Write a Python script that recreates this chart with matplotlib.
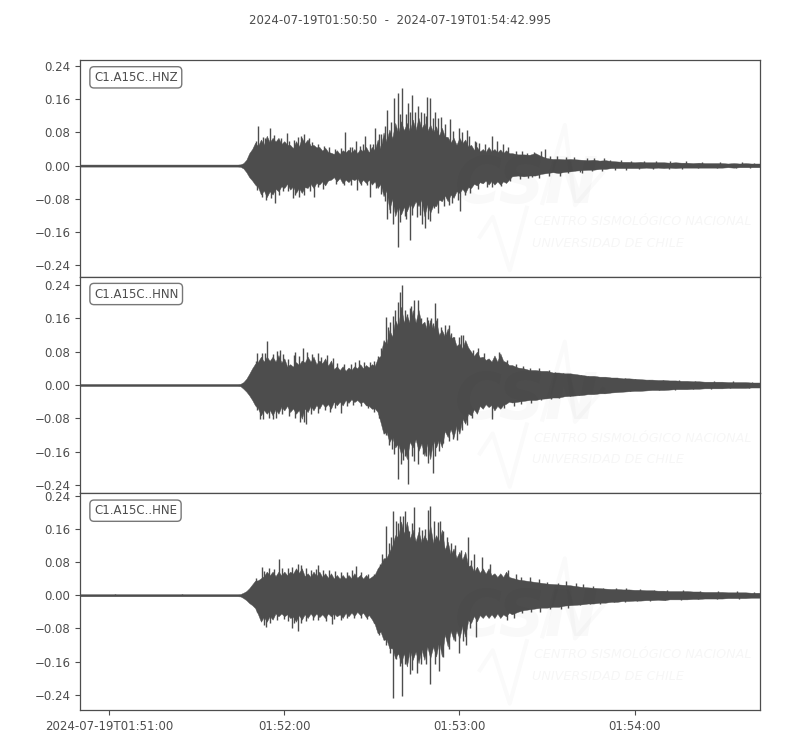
import matplotlib
matplotlib.use("Agg")
import matplotlib.pyplot as plt
import numpy as np

TITLE = "2024-07-19T01:50:50  -  2024-07-19T01:54:42.995"
channels = ["C1.A15C..HNZ", "C1.A15C..HNN", "C1.A15C..HNE"]
y_ticks = [-0.24, -0.16, -0.08, 0.0, 0.08, 0.16, 0.24]
x_ticks = [10, 70, 130, 190]
x_labels = ["2024-07-19T01:51:00", "01:52:00", "01:53:00", "01:54:00"]
y_limits = [(-0.268, 0.2547), (-0.26, 0.26), (-0.277, 0.2458)]

# seconds after 01:50:50 at which the envelopes were read
peak_t = [0] + list(range(52, 148, 2)) + list(range(148, 233, 4)) + [233]
notch_t = list(range(53, 149, 2)) + list(range(150, 231, 4))

z_tail_up = [.030, .027, .030, .018, .016, .016, .014, .014, .013, .010, .009, .009, .008, .008, .008, .007, .007, .006, .006, .006, .006, .005, .005]
z_tail_lo = [.026, .026, .024, .018, .018, .014, .011, .010, .008, .006, .006, .006, .006, .006, .006, .005, .005, .005, .005, .005, .004, .004, .004]
z_up = [.0025, .0025, .0025, .006, .03, .055, .063, .072, .067, .067, .059, .05, .059, .067, .063, .05, .045, .043, .031, .037, .037, .039, .04, .04, .045, .045, .063, .08, .087, .103, .107, .103, .111, .115, .103, .099, .095, .091, .069, .067, .067, .063, .05, .045, .04, .045, .04, .039, .037] + z_tail_up
z_lo = [.0025, .0025, .0025, .007, .028, .046, .07, .076, .07, .062, .054, .058, .066, .066, .054, .054, .046, .048, .034, .038, .043, .040, .035, .043, .042, .046, .054, .074, .106, .122, .118, .11, .102, .098, .122, .114, .098, .086, .086, .078, .066, .066, .054, .048, .043, .046, .046, .046, .042] + z_tail_lo
z_up_notch = [.0025, .003, .014, .04, .047, .05, .056, .058, .052, .05, .042, .046, .054, .048, .044, .036, .033, .028, .028, .032, .031, .03, .034, .032, .037, .04, .058, .066, .078, .085, .082, .086, .09, .083, .08, .072, .07, .056, .05, .054, .046, .038, .034, .033, .034, .032, .03, .03,
              .027, .026, .023, .016, .015, .015, .013, .012, .011, .009, .008, .008, .008, .007, .007, .006, .006, .006, .005, .005, .005]
z_lo_notch = [.0025, .003, .016, .036, .052, .06, .062, .056, .05, .044, .05, .054, .052, .044, .042, .038, .036, .028, .03, .034, .032, .03, .034, .034, .038, .044, .06, .08, .098, .1, .092, .086, .082, .094, .096, .082, .072, .07, .062, .056, .052, .044, .04, .036, .037, .038, .038, .034,
              .024, .024, .02, .016, .015, .012, .01, .008, .006, .006, .006, .005, .005, .005, .005, .005, .005, .005, .004, .004, .004]
z_spike_t = [61, 65.1, 70.8, 74.8, 76.9, 90.8, 94.6, 97.7, 101.1, 102.5, 105.1, 107.6, 108.9, 110.4, 112.5, 113.8, 115.7, 117.7, 118.9, 119.9, 121.7, 123.7, 126.7, 129.7, 132.5, 135.4, 135.8, 141.3, 142.8, 159.4, 179.4,
             66.8, 72.9, 75.2, 80.2, 94.8, 99.4, 105.1, 107.4, 108.9, 111.4, 112.9, 117.1, 118.3, 120, 121.3, 126.6, 130.3, 132, 141.1, 144.2, 154.9, 172]
z_spike_v = [.096, .091, .079, .069, .075, .081, .059, .071, .091, .077, .135, .163, .175, .186, .151, .171, .143, .127, .165, .163, .129, .117, .113, .091, .087, .06, .058, .071, .059, .04, .018,
             -.09, -.078, -.076, -.076, -.059, -.076, -.13, -.14, -.197, -.122, -.18, -.142, -.15, -.134, -.102, -.094, -.11, -.07, -.051, -.05, -.027, -.019]
z_fine_t = [60.3, 62.7, 63.5, 66.4, 68.9, 71.6, 73.3, 75.7, 78.4, 79.5, 81.4, 83.6, 85.2, 87.4, 89.4, 92.5, 93.2, 95.8, 96.9, 99.2, 100.5, 103.3, 104.6, 106.4,
            109.5, 111.6, 113, 114.9, 116.7, 118.4, 120.8, 122.8, 124.9, 127.8, 130.8, 133.3, 136.7, 138.9, 144.9,
            146.5, 149.3, 151.6, 153.2, 155.7, 157.8, 161.1, 163.3, 166.6, 169.4, 173.7, 176.2, 181.6, 185.4, 188.7, 193.2, 197.5, 202.3, 207.6, 213.1, 219.4, 226.7, 231,
            60.6, 62.4, 63.8, 65.3, 68.2, 69.7, 71.4, 73.8, 76.6, 78.9, 81.6, 83.2, 87.7, 90.6, 92.7, 96.3, 98.2, 101.4, 103.1, 104.4, 106.1,
            109.7, 111.8, 113.8, 115.3, 116.4, 119.1, 122.6, 124.8, 127.3, 129.4, 133.6, 136.3, 139.4,
            147.4, 150.7, 153.6, 157.3, 160.6, 164.4, 167.3, 171.2, 175.6, 178.8, 183.3, 187.1, 191.7, 196.4, 201.8, 206.2, 211.9, 218.3, 224.8, 229.6]
z_fine_v = [.06, .07, .066, .074, .066, .06, .062, .072, .066, .058, .052, .048, .044, .04, .042, .046, .045, .048, .052, .052, .052, .075, .095, .105,
            .125, .125, .13, .13, .13, .12, .115, .115, .1, .083, .08, .072, .055, .052, .052,
            .045, .036, .034, .03, .033, .036, .022, .024, .02, .02, .018, .018, .014, .014, .012, .012, .011, .011, .01, .009, .009, .008, .007,
            -.06, -.075, -.082, -.078, -.07, -.062, -.062, -.07, -.072, -.062, -.052, -.056, -.044, -.048, -.046, -.048, -.048, -.054, -.068, -.085, -.115,
            -.135, -.128, -.12, -.125, -.12, -.13, -.115, -.098, -.09, -.082, -.066, -.056, -.052,
            -.036, -.032, -.03, -.03, -.024, -.024, -.018, -.016, -.014, -.012, -.011, -.01, -.009, -.009, -.008, -.008, -.007, -.007, -.006, -.006]

n_tail_up = [.048, .04, .036, .034, .03, .028, .024, .022, .02, .018, .016, .014, .013, .012, .011, .01, .009, .008, .008, .007, .007, .006, .006]
n_tail_lo = [.042, .038, .036, .032, .03, .026, .024, .022, .02, .017, .015, .014, .012, .012, .01, .01, .009, .008, .008, .007, .007, .006, .006]
n_up = [.0025, .0025, .0025, .007, .027, .051, .068, .068, .068, .072, .064, .05, .055, .059, .068, .068, .059, .064, .059, .045, .045, .042, .045, .05, .048, .05, .064, .108, .132, .156, .188, .168, .18, .18, .152, .156, .156, .132, .136, .116, .1, .108, .08, .08, .068, .064, .071, .076, .055] + n_tail_up
n_lo = [.0025, .0025, .0025, .009, .025, .049, .073, .069, .073, .069, .061, .065, .069, .081, .065, .061, .057, .053, .057, .049, .049, .043, .041, .043, .049, .057, .065, .117, .137, .15, .166, .178, .15, .158, .170, .178, .15, .15, .125, .125, .117, .093, .073, .069, .057, .053, .061, .057, .045] + n_tail_lo
n_up_notch = [.0025, .003, .015, .04, .056, .056, .058, .056, .054, .044, .044, .048, .054, .056, .05, .052, .046, .038, .036, .034, .036, .04, .04, .042, .046, .07, .098, .116, .14, .15, .148, .15, .146, .13, .132, .12, .116, .112, .094, .088, .09, .07, .066, .06, .056, .056, .058, .048,
              .042, .036, .034, .03, .028, .026, .022, .02, .018, .016, .015, .013, .012, .011, .01, .009, .008, .008, .007, .007, .006]
n_lo_notch = [.0025, .003, .016, .036, .056, .06, .06, .058, .052, .05, .056, .06, .056, .05, .048, .044, .046, .04, .04, .036, .034, .036, .04, .05, .056, .09, .112, .124, .14, .15, .136, .13, .14, .14, .132, .13, .11, .106, .098, .08, .068, .058, .05, .046, .048, .05, .048, .04,
              .04, .036, .033, .03, .027, .025, .022, .02, .018, .016, .014, .013, .012, .011, .01, .009, .008, .008, .007, .007, .006]
n_spike_t = [64.2, 60.8, 67.4, 68.5, 73.7, 76.3, 81.5, 95.7, 102, 104.8, 106.3, 108, 109.7, 110.4, 111.4, 112.9, 114.3, 115.7, 117.3, 118.8, 120.3, 121.6, 123.6, 126.6, 128.2, 131.4, 134.6, 138.3, 143.4,
             61.7, 66, 75.4, 77.5, 89.5, 104.9, 106.8, 108.9, 109.9, 112.4, 114.6, 119.1, 120.8, 123.1, 129.1, 130.8, 141.1]
n_spike_v = [.106, .076, .082, .084, .08, .089, .078, .059, .069, .164, .152, .18, .224, .239, .18, .186, .203, .204, .144, .164, .16, .198, .14, .144, .116, .12, .084, .076, .08,
             -.081, -.081, -.089, -.093, -.068, -.121, -.154, -.226, -.19, -.238, -.182, -.186, -.21, -.158, -.133, -.109, -.081]
n_fine_t = [60.2, 62.3, 63.5, 66.2, 69.6, 71.4, 73.2, 75.1, 77.7, 79.4, 82.6, 84.8, 86.6, 87.9, 90.4, 92.8, 94.1, 97.2, 99.5, 100.8, 103.2,
            105.6, 107.3, 109, 112.2, 113.4, 116.8, 119.4, 121, 122.4, 125.1, 127.2, 129.7, 130.6, 133.1, 136.2,
            146.3, 149.5, 151.8, 154.2, 157.4, 160.7, 162.8, 165.6, 168.3, 171.7, 174.2, 178.6, 182.4, 186.9, 190.3, 195.1, 199.6, 205.3, 210.8, 217.2, 223.6, 230.1,
            60.5, 62.6, 64.7, 67.3, 69.2, 71.7, 73.5, 76.8, 79.3, 81.5, 83.9, 85.7, 87.3, 91.4, 93.7, 96.2, 98.6, 100.7, 102.6,
            105.8, 107.7, 110.6, 111.3, 113.6, 115.7, 117.4, 118.4, 121.8, 124.3, 126.4, 127.9, 132.5, 134.4,
            145.4, 148.6, 151.2, 154.7, 157.9, 161.4, 164.2, 167.8, 171.1, 175.3, 179.7, 184.2, 188.3, 192.6, 198.4, 203.7, 209.9, 216.1, 222.8, 229.2]
n_fine_v = [.058, .076, .078, .075, .074, .062, .072, .07, .08, .074, .068, .072, .066, .054, .05, .05, .056, .056, .056, .058, .09,
            .14, .165, .2, .17, .19, .16, .155, .15, .16, .145, .125, .115, .12, .09, .09,
            .06, .05, .046, .042, .04, .036, .032, .028, .026, .024, .022, .018, .016, .016, .014, .012, .012, .011, .01, .009, .009, .008,
            -.06, -.082, -.078, -.08, -.07, -.074, -.078, -.088, -.07, -.066, -.06, -.064, -.056, -.05, -.048, -.05, -.056, -.064, -.08,
            -.145, -.165, -.18, -.17, -.17, -.19, -.165, -.17, -.17, -.14, -.135, -.13, -.095, -.08,
            -.056, -.05, -.046, -.042, -.036, -.034, -.03, -.026, -.024, -.02, -.018, -.015, -.014, -.013, -.012, -.011, -.01, -.009, -.008, -.008]

e_tail_up = [.042, .036, .032, .028, .026, .024, .02, .018, .016, .015, .014, .013, .012, .011, .01, .01, .009, .008, .008, .007, .007, .006, .006]
e_tail_lo = [.046, .036, .032, .03, .028, .024, .022, .02, .018, .016, .014, .013, .012, .012, .01, .01, .009, .008, .008, .007, .007, .006, .006]
e_up = [.0025, .0025, .0025, .006, .017, .035, .041, .057, .057, .057, .057, .057, .065, .065, .053, .057, .057, .053, .053, .049, .049, .049, .053, .049, .049, .045, .065, .089, .105, .145, .178, .178, .158, .154, .145, .169, .145, .158, .129, .113, .105, .105, .073, .069, .065, .065, .053, .053, .057] + e_tail_up
e_lo = [.0025, .0025, .0025, .007, .019, .031, .064, .064, .059, .051, .051, .055, .064, .059, .055, .053, .053, .055, .051, .051, .055, .051, .050, .048, .053, .058, .092, .108, .128, .152, .164, .172, .156, .164, .156, .152, .148, .148, .124, .108, .104, .100, .067, .063, .055, .055, .055, .055, .051] + e_tail_lo
e_up_notch = [.0025, .003, .01, .026, .036, .046, .048, .046, .048, .048, .052, .054, .046, .044, .046, .044, .042, .04, .04, .04, .041, .042, .04, .04, .05, .074, .09, .12, .14, .148, .136, .13, .128, .13, .126, .13, .11, .098, .09, .086, .07, .056, .054, .052, .048, .044, .044, .044,
              .038, .034, .03, .027, .025, .022, .019, .017, .015, .014, .013, .012, .011, .01, .01, .009, .008, .008, .007, .007, .006]
e_lo_notch = [.0025, .003, .012, .024, .046, .052, .05, .044, .044, .046, .052, .048, .046, .044, .044, .046, .044, .044, .046, .043, .042, .04, .042, .048, .07, .088, .106, .128, .14, .14, .132, .136, .13, .124, .124, .112, .094, .086, .086, .074, .06, .05, .048, .046, .046, .044, .046, .042,
              .04, .034, .03, .028, .025, .023, .02, .018, .016, .014, .013, .012, .011, .01, .01, .009, .008, .008, .007, .007, .006]
e_spike_t = [12, 35, 62.5, 68.1, 74.8, 81.5, 94.6, 104.8, 107.2, 108.3, 109.7, 111.3, 114.5, 117.1, 119.2, 120, 122.8, 124.3, 128.5, 132.9, 135.1, 137.7, 140.5,
             63.7, 72.5, 74.6, 86.3, 107.2, 110.4, 112.9, 115.4, 120, 123.1, 129.7, 132.2, 135.7]
e_spike_v = [.004, .004, .069, .088, .076, .073, .071, .166, .204, .178, .19, .204, .212, .158, .206, .215, .176, .154, .121, .14, .1, .092, .076,
             -.076, -.08, -.086, -.069, -.248, -.243, -.19, -.188, -.214, -.184, -.14, -.12, -.1]
e_fine_t = [60.4, 62.9, 64.8, 66.6, 69.2, 71.3, 72.7, 75.6, 77.4, 79.1, 81, 83.4, 85.2, 87.3, 89.6, 91.4, 93.2, 96.4, 98.6, 100.7, 102.8, 103.6,
            105.9, 106.7, 109.1, 110.6, 112.6, 113.7, 116, 118.1, 121.4, 123.4, 125.7, 127.2, 130.7, 134,
            146.8, 149.4, 151.1, 154.3, 157.2, 160.1, 163.8, 166.4, 169.9, 172.5, 175.9, 179.3, 183.6, 187.2, 191.8, 196.6, 201.2, 206.7, 212.4, 218.6, 225.2, 231,
            60.6, 63.2, 65.2, 67.4, 69.8, 71.2, 73.4, 75.7, 77.6, 79.8, 81.7, 84.3, 87.2, 89.3, 91.6, 93.8, 96.2, 98.4, 100.9, 102.5,
            104.9, 106.3, 108.3, 109.6, 111.4, 113.8, 116.7, 118.4, 121.7, 124.5, 126.6, 128.4, 131.2, 133.8,
            146.2, 148.7, 151.4, 154.6, 157.7, 160.9, 164.7, 167.2, 171.4, 174.8, 178.3, 182.9, 186.7, 190.8, 195.4, 200.3, 205.9, 211.6, 218.2, 225.7]
e_fine_v = [.042, .058, .066, .064, .066, .066, .068, .074, .066, .062, .064, .06, .06, .058, .056, .056, .06, .056, .052, .05, .075, .1,
            .125, .14, .175, .19, .155, .175, .165, .16, .18, .18, .14, .125, .11, .085,
            .062, .05, .045, .044, .038, .032, .03, .034, .03, .026, .022, .018, .018, .017, .014, .013, .012, .012, .01, .009, .009, .008,
            -.04, -.072, -.068, -.06, -.058, -.062, -.068, -.066, -.062, -.06, -.06, -.062, -.058, -.06, -.056, -.056, -.054, -.058, -.066, -.095,
            -.12, -.14, -.155, -.17, -.165, -.18, -.165, -.165, -.165, -.15, -.13, -.11, -.11, -.08,
            -.06, -.056, -.044, -.04, -.04, -.034, -.034, -.032, -.024, -.02, -.02, -.017, -.016, -.014, -.013, -.012, -.011, -.01, -.009, -.008]

traces = [(z_up, z_up_notch, z_lo, z_lo_notch, z_spike_t + z_fine_t, z_spike_v + z_fine_v),
          (n_up, n_up_notch, n_lo, n_lo_notch, n_spike_t + n_fine_t, n_spike_v + n_fine_v),
          (e_up, e_up_notch, e_lo, e_lo_notch, e_spike_t + e_fine_t, e_spike_v + e_fine_v)]

# faint logo strokes of the background watermark, in axes fractions
wave_x = [0.588, 0.607, 0.632, 0.657]
wave_y = [0.184, 0.276, 0.03, 0.318]
peak_x = [0.68, 0.713, 0.728, 0.769]
peak_y = [0.34, 0.70, 0.33, 0.48]

INK = "#4d4d4d"
plt.rcParams["font.family"] = "DejaVu Sans"
plt.rcParams["font.size"] = 8.5

fig, axes = plt.subplots(3, 1, figsize=(8, 7.5), dpi=100, sharex=True)
fig.subplots_adjust(left=0.1, right=0.95, top=0.92, bottom=0.0533, hspace=0)

all_t = np.array(peak_t + notch_t, dtype=float)
order = np.argsort(all_t)

for ax, name, lim, (up, up_n, lo, lo_n, st, sv) in zip(axes, channels, y_limits, traces):
    upper = np.array(up + up_n)[order]
    lower = np.array(lo + lo_n)[order]
    ax.fill_between(all_t[order], -lower, upper, color=INK, lw=0.3, zorder=3)
    ax.vlines(st, 0, sv, color=INK, lw=1.0, zorder=3)
    ax.set_xlim(0, 232.995)
    ax.set_ylim(*lim)
    ax.set_yticks(y_ticks)
    ax.set_yticklabels([f"{v:.2f}".replace("-", "\u2212") for v in y_ticks])
    ax.tick_params(axis="both", colors=INK, labelcolor=INK, labelsize=8.5, length=3.5, width=0.8)
    for s in ax.spines.values():
        s.set_color(INK)
        s.set_linewidth(0.9)
    ax.text(0.0206, 0.92, name, transform=ax.transAxes, fontsize=8.5, color=INK, va="center", ha="left", zorder=6,
            bbox=dict(boxstyle="round,pad=0.35", fc="white", ec="#777777", lw=1.0))
    # faint watermark
    ax.text(0.551, 0.425, "CSN", transform=ax.transAxes, fontsize=46, style="italic", weight="bold",
            color="black", alpha=0.025, ha="left", va="center", zorder=5)
    ax.text(0.667, 0.255, "CENTRO SISMOLÓGICO NACIONAL", transform=ax.transAxes, fontsize=9.2, style="italic",
            color="black", alpha=0.035, ha="left", va="center", zorder=5)
    ax.text(0.664, 0.155, "UNIVERSIDAD DE CHILE", transform=ax.transAxes, fontsize=9.2, style="italic",
            color="black", alpha=0.035, ha="left", va="center", zorder=5)
    ax.plot(wave_x, wave_y, transform=ax.transAxes, color="black", alpha=0.02, lw=3, zorder=5)
    ax.plot(peak_x, peak_y, transform=ax.transAxes, color="black", alpha=0.02, lw=3, zorder=5)

for ax in axes[:-1]:
    ax.tick_params(axis="x", length=0, labelbottom=False)
axes[-1].set_xticks(x_ticks)
axes[-1].set_xticklabels(x_labels)

fig.text(0.5, 0.9727, TITLE, ha="center", va="center", fontsize=8.45, color=INK)
fig.savefig("out.png", dpi=100)
